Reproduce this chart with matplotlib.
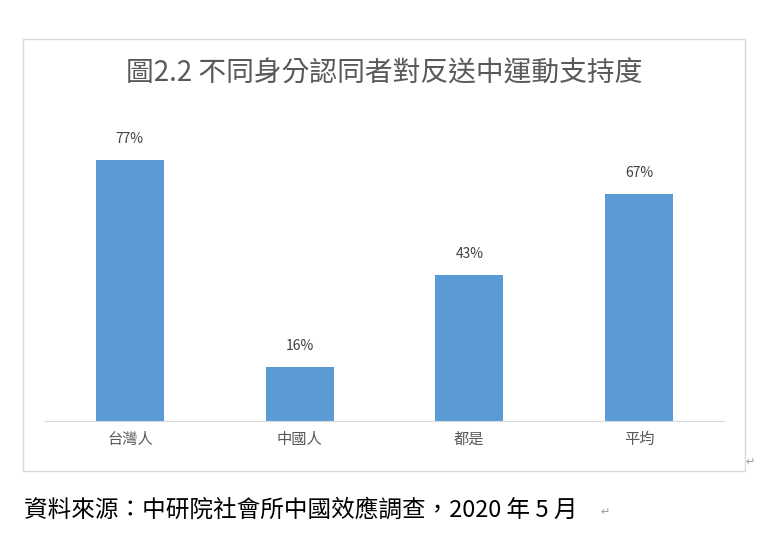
import matplotlib
matplotlib.use("Agg")
import matplotlib.pyplot as plt
from matplotlib.patches import Rectangle

plt.rcParams['font.family'] = ['Noto Sans CJK TC', 'DejaVu Sans']

# data
categories = ["台灣人", "中國人", "都是", "平均"]
support = [0.77, 0.16, 0.43, 0.67]
title = "圖2.2 不同身分認同者對反送中運動支持度"
source = "資料來源：中研院社會所中國效應調查，2020 年 5 月"

W, H = 766, 544
fig = plt.figure(figsize=(W / 100, H / 100), dpi=100)

# chart frame
fig.patches.append(Rectangle((23 / W, 1 - 471 / H), (745 - 23) / W, (471 - 39) / H,
                             transform=fig.transFigure, fill=False,
                             edgecolor="#D9D9D9", linewidth=1))

ax = fig.add_axes([45 / W, 1 - 421 / H, (724 - 45) / W, (421 - 116) / H])
x = range(len(categories))
bars = ax.bar(x, support, width=0.4, color="#5B9BD5")
ax.set_xlim(-0.5, 3.5)
ax.set_ylim(0, 0.9)
ax.set_yticks([])
for s in ["top", "left", "right"]:
    ax.spines[s].set_visible(False)
ax.spines["bottom"].set_color("#D9D9D9")
ax.set_xticks(list(x))
ax.set_xticklabels(categories, fontsize=11, color="#595959")
ax.tick_params(axis="x", length=0, pad=7)

for b, v in zip(bars, support):
    ax.annotate(f"{v:.0%}", (b.get_x() + b.get_width() / 2, v),
                xytext=(0, 10), textcoords="offset points",
                ha="center", va="bottom", fontsize=10, color="#404040",
                fontweight="medium")

fig.text(384 / W, 1 - 74 / H, title, ha="center", va="center",
         fontsize=20, color="#595959", fontweight="light")

fig.text(24 / W, 1 - 510 / H, source, ha="left", va="center",
         fontsize=17, color="black")
fig.text(605 / W, 1 - 512 / H, "↵", ha="center", va="center",
         fontsize=8, color="#999999")
fig.text(750 / W, 1 - 462 / H, "↵", ha="center", va="center",
         fontsize=8, color="#999999")

fig.savefig("out.png", dpi=100)
